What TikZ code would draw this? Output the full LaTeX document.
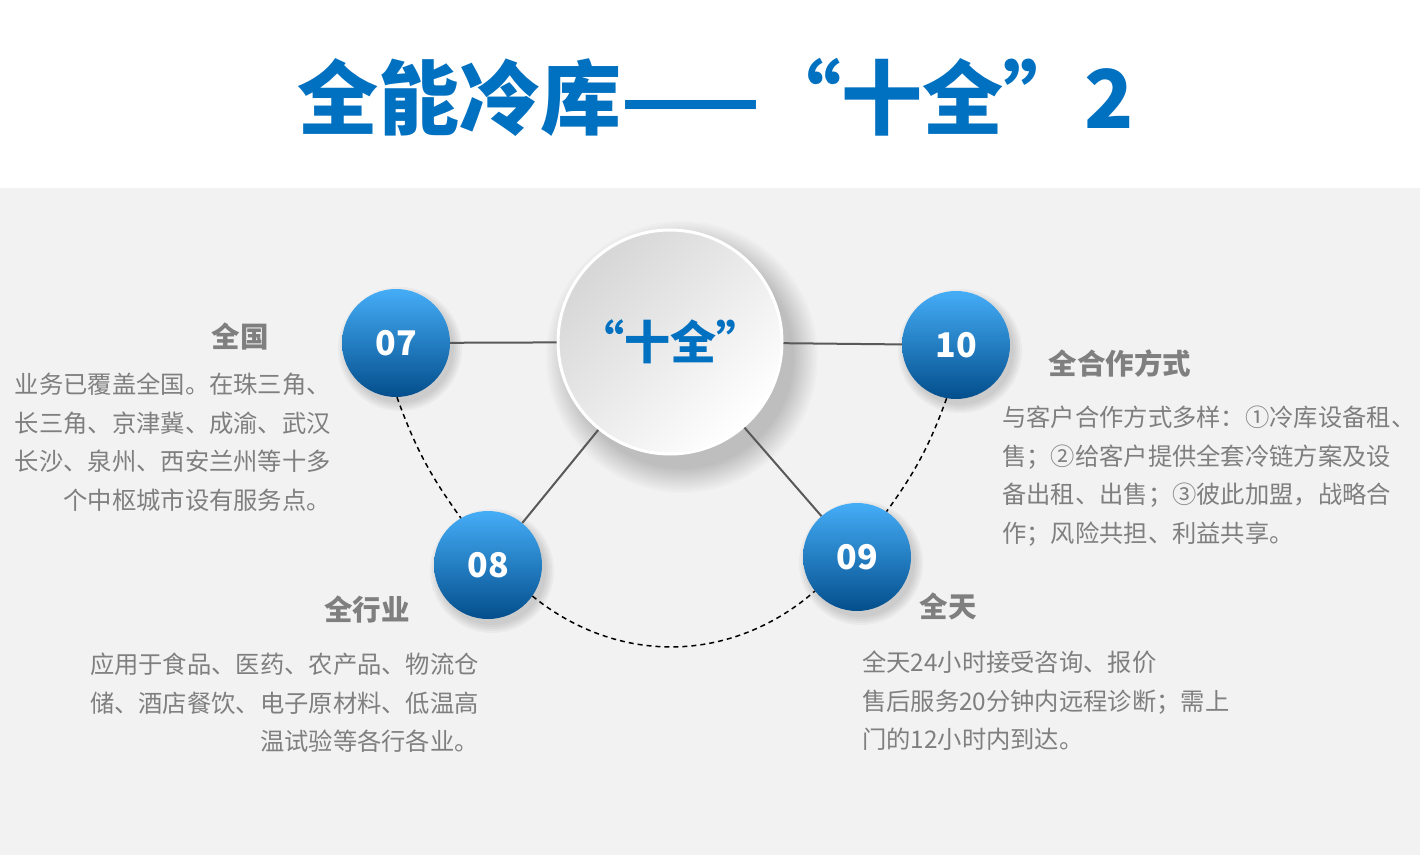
\documentclass[tikz,border=0pt]{standalone}
\usepackage{fontspec}
\setmainfont{Noto Sans CJK SC}
\usetikzlibrary{positioning}
\definecolor{azul}{HTML}{0070C0}
\definecolor{bolaclara}{HTML}{45ADF7}
\definecolor{bolamedio}{HTML}{0B73C6}
\definecolor{bolaoscura}{HTML}{034E8C}
\definecolor{fondo}{HTML}{F2F2F2}
\definecolor{linea}{HTML}{595959}
\definecolor{gristexto}{HTML}{7F7F7F}

\begin{document}
\begin{tikzpicture}[x=1pt, y=1pt,
  numball/.style={circle, minimum size=108pt, inner sep=0pt, top color=bolaclara, middle color=bolamedio, bottom color=bolaoscura, text=white, font=\bfseries\fontsize{34}{34}\selectfont},
  link/.style={draw=linea, line width=2pt},
  dashlink/.style={draw=black, line width=1.5pt, dash pattern=on 5pt off 4pt},
  heading/.style={text=gristexto, inner sep=0pt, font=\bfseries\fontsize{28.5}{34}\selectfont},
  bodytext/.style={text=gristexto, inner sep=0pt, font=\fontsize{24.3}{38.4}\selectfont}]
\useasboundingbox (0,0) rectangle (1420,855);
% fondo
\fill[white] (0,0) rectangle (1420,855);
\fill[fondo] (0,0) rectangle (1420,667);

% titulo
\node[text=azul, font=\bfseries\fontsize{81}{84}\selectfont] (titulo) at (716,758) {全能冷库——“十全”2};

% sombras
\foreach \r in {0,2,...,24}
  \fill[black, opacity=0.014] (682,498) circle (112+\r);
\foreach \p in {(400,506),(492,284),(861,292),(960,504)}
  \foreach \r in {0,2,...,8}
    \fill[black, opacity=0.03] \p circle (54+\r);

% circulo central
\node[circle, minimum size=224pt, inner sep=0pt, draw=white, line width=3pt, top color=gray!32, bottom color=white, shading angle=45, text=azul, font=\bfseries\fontsize{46}{46}\selectfont] (ctr) at (670,513) {“十全”};

% bolas
\node[numball] (n07) at (396,512) {07};
\node[numball] (n08) at (488,290) {08};
\node[numball] (n09) at (857,298) {09};
\node[numball] (n10) at (956,510) {10};

% lineas
\draw[link] (n07) -- (ctr);
\draw[link] (ctr) -- (n10);
\draw[link] (ctr) -- (n08);
\draw[link] (ctr) -- (n09);
\draw[dashlink] (n07.-89) to[bend right=8] (n08.120);
\draw[dashlink] (n08.-35) to[bend right=40] (n09.-141);
\draw[dashlink] (n10.-100) to[bend left=8] (n09.57);

% textos
\node[heading] (hq) at (240,518) {全国};
\node[bodytext, anchor=north east, align=right] (tq) at (331,482) {业务已覆盖全国。在珠三角、\\长三角、京津冀、成渝、武汉\\长沙、泉州、西安兰州等十多\\个中枢城市设有服务点。};
\node[heading] (hh) at (367,245) {全行业};
\node[bodytext, anchor=north east, align=right] (th) at (479,202) {应用于食品、医药、农产品、物流仓\\储、酒店餐饮、电子原材料、低温高\\温试验等各行各业。};
\node[heading] (hc) at (1120,492) {全合作方式};
\node[bodytext, anchor=north west, align=left] (tc) at (1002,449) {与客户合作方式多样：①冷库设备租、\\售；②给客户提供全套冷链方案及设\\备出租、出售；③彼此加盟，战略合\\作；风险共担、利益共享。};
\node[heading] (ht) at (948,249) {全天};
\node[bodytext, anchor=north west, align=left] (tt) at (862,204) {全天24小时接受咨询、报价\\售后服务20分钟内远程诊断；需上\\门的12小时内到达。};
\end{tikzpicture}
\end{document}
